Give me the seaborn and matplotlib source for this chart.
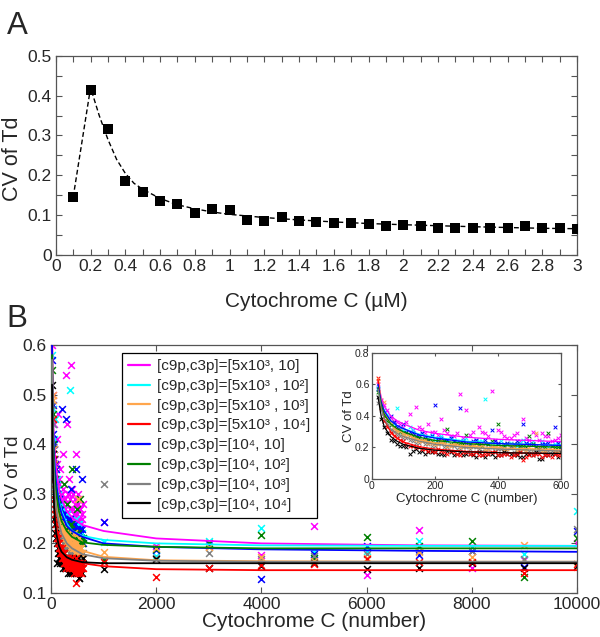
import matplotlib
matplotlib.use("Agg")
import matplotlib.pyplot as plt
from matplotlib.ticker import MultipleLocator, FuncFormatter
import seaborn as sns

# ---- panel A: CV of Td vs cytochrome C concentration
conc_um = [0.1, 0.2, 0.3, 0.4, 0.5, 0.6, 0.7, 0.8, 0.9, 1.0,
           1.1, 1.2, 1.3, 1.4, 1.5, 1.6, 1.7, 1.8, 1.9, 2.0,
           2.1, 2.2, 2.3, 2.4, 2.5, 2.6, 2.7, 2.8, 2.9, 3.0]
cv_td = [0.145, 0.415, 0.317, 0.185, 0.157, 0.135, 0.128, 0.105, 0.115, 0.113,
         0.088, 0.086, 0.096, 0.085, 0.083, 0.080, 0.081, 0.079, 0.073, 0.076,
         0.072, 0.068, 0.069, 0.068, 0.069, 0.068, 0.073, 0.067, 0.069, 0.066]
# dashed fitted curve
fit_conc = [0.1, 0.2, 0.25, 0.3, 0.35, 0.4, 0.45, 0.5, 0.6, 0.7, 0.8, 0.9, 1.0,
            1.2, 1.4, 1.6, 1.8, 2.0, 2.4, 2.8, 3.0]
fit_cv = [0.145, 0.42, 0.35, 0.29, 0.24, 0.205, 0.18, 0.165, 0.142, 0.126, 0.116,
          0.108, 0.102, 0.094, 0.088, 0.083, 0.079, 0.076, 0.071, 0.067, 0.066]

# ---- panel B: CV of Td vs cytochrome C molecule number
labels = ["[c9p,c3p]=[5x10³, 10]",
          "[c9p,c3p]=[5x10³ , 10²]",
          "[c9p,c3p]=[5x10³ , 10³]",
          "[c9p,c3p]=[5x10³ , 10⁴]",
          "[c9p,c3p]=[10⁴, 10]",
          "[c9p,c3p]=[10⁴, 10²]",
          "[c9p,c3p]=[10⁴, 10³]",
          "[c9p,c3p]=[10⁴, 10⁴]"]
colors = ["#ff00ff", "#00ffff", "#ffa64d", "#ff0000",
          "#0000ff", "#008000", "#808080", "#000000"]

dense_x = [20, 40, 60, 80, 100, 120, 140, 160, 180, 200,
           220, 240, 260, 280, 300, 320, 340, 360, 380, 400,
           420, 440, 460, 480, 500, 520, 540, 560, 580, 600]
dense_x2 = [30, 50, 70, 90, 110, 130, 150, 170, 190, 210,
            230, 250, 270, 290, 310, 330, 350, 370, 390, 410,
            430, 450, 470, 490, 510, 530, 550, 570, 590]
sparse_x = [1000, 2000, 3000, 4000, 5000, 6000, 7000, 8000, 9000, 10000]

# simulated CV, one list per parameter set (legend order)
dense_cv = [
    [0.60, 0.47, 0.39, 0.36, 0.33, 0.41, 0.46, 0.32, 0.35, 0.30,
     0.38, 0.29, 0.27, 0.54, 0.44, 0.30, 0.33, 0.29, 0.56, 0.31,
     0.27, 0.26, 0.29, 0.38, 0.25, 0.28, 0.29, 0.27, 0.25, 0.28],
    [0.58, 0.44, 0.36, 0.45, 0.31, 0.33, 0.27, 0.29, 0.26, 0.25,
     0.27, 0.24, 0.25, 0.23, 0.26, 0.22, 0.24, 0.51, 0.23, 0.22,
     0.21, 0.23, 0.21, 0.25, 0.22, 0.21, 0.24, 0.20, 0.22, 0.21],
    [0.62, 0.49, 0.36, 0.30, 0.28, 0.27, 0.25, 0.24, 0.23, 0.22,
     0.24, 0.21, 0.22, 0.20, 0.21, 0.22, 0.20, 0.19, 0.21, 0.20,
     0.19, 0.22, 0.18, 0.19, 0.20, 0.29, 0.18, 0.19, 0.18, 0.17],
    [0.64, 0.37, 0.29, 0.26, 0.24, 0.21, 0.20, 0.19, 0.18, 0.17,
     0.18, 0.16, 0.17, 0.15, 0.17, 0.16, 0.15, 0.16, 0.17, 0.15,
     0.16, 0.14, 0.16, 0.12, 0.15, 0.16, 0.14, 0.15, 0.16, 0.15],
    [0.57, 0.42, 0.40, 0.33, 0.35, 0.30, 0.27, 0.29, 0.25, 0.47,
     0.26, 0.25, 0.24, 0.45, 0.23, 0.24, 0.22, 0.25, 0.31, 0.23,
     0.22, 0.21, 0.24, 0.35, 0.22, 0.21, 0.22, 0.23, 0.33, 0.20],
    [0.55, 0.40, 0.34, 0.31, 0.29, 0.28, 0.26, 0.25, 0.24, 0.23,
     0.24, 0.32, 0.22, 0.23, 0.28, 0.21, 0.22, 0.23, 0.24, 0.35,
     0.21, 0.20, 0.22, 0.21, 0.27, 0.20, 0.21, 0.29, 0.20, 0.21],
    [0.48, 0.37, 0.31, 0.28, 0.26, 0.25, 0.23, 0.24, 0.22, 0.21,
     0.23, 0.20, 0.21, 0.19, 0.20, 0.21, 0.19, 0.18, 0.20, 0.19,
     0.18, 0.20, 0.17, 0.19, 0.18, 0.17, 0.19, 0.18, 0.17, 0.18],
    [0.52, 0.33, 0.25, 0.22, 0.21, 0.16, 0.19, 0.18, 0.17, 0.17,
     0.16, 0.18, 0.15, 0.17, 0.16, 0.15, 0.17, 0.14, 0.16, 0.15,
     0.17, 0.16, 0.15, 0.14, 0.16, 0.17, 0.13, 0.15, 0.16, 0.17],
]
dense_cv2 = [
    [0.50, 0.44, 0.37, 0.35, 0.36, 0.31, 0.33, 0.29, 0.30, 0.28,
     0.31, 0.27, 0.29, 0.26, 0.28, 0.25, 0.30, 0.27, 0.25, 0.30,
     0.26, 0.28, 0.24, 0.26, 0.30, 0.25, 0.27, 0.24, 0.26],
    [0.47, 0.41, 0.35, 0.32, 0.30, 0.31, 0.28, 0.27, 0.28, 0.26,
     0.25, 0.26, 0.24, 0.25, 0.23, 0.25, 0.24, 0.22, 0.23, 0.24,
     0.22, 0.21, 0.23, 0.22, 0.24, 0.21, 0.22, 0.21, 0.22],
    [0.50, 0.39, 0.32, 0.31, 0.27, 0.26, 0.24, 0.25, 0.23, 0.22,
     0.23, 0.21, 0.22, 0.21, 0.20, 0.21, 0.22, 0.19, 0.20, 0.21,
     0.19, 0.20, 0.19, 0.18, 0.19, 0.21, 0.18, 0.19, 0.18],
    [0.45, 0.33, 0.27, 0.25, 0.22, 0.21, 0.20, 0.19, 0.18, 0.19,
     0.17, 0.18, 0.16, 0.17, 0.16, 0.17, 0.15, 0.16, 0.17, 0.15,
     0.16, 0.15, 0.17, 0.14, 0.15, 0.16, 0.15, 0.14, 0.15],
    [0.48, 0.39, 0.36, 0.32, 0.30, 0.29, 0.28, 0.26, 0.27, 0.25,
     0.24, 0.26, 0.23, 0.24, 0.22, 0.25, 0.23, 0.22, 0.24, 0.21,
     0.23, 0.22, 0.21, 0.23, 0.22, 0.20, 0.22, 0.21, 0.23],
    [0.46, 0.37, 0.33, 0.30, 0.29, 0.27, 0.26, 0.25, 0.24, 0.23,
     0.24, 0.22, 0.23, 0.22, 0.21, 0.23, 0.21, 0.22, 0.20, 0.21,
     0.22, 0.20, 0.21, 0.20, 0.22, 0.19, 0.20, 0.21, 0.20],
    [0.44, 0.34, 0.30, 0.27, 0.26, 0.24, 0.23, 0.22, 0.21, 0.22,
     0.20, 0.21, 0.19, 0.20, 0.19, 0.20, 0.18, 0.19, 0.18, 0.19,
     0.18, 0.17, 0.18, 0.19, 0.17, 0.18, 0.17, 0.18, 0.17],
    [0.38, 0.29, 0.24, 0.21, 0.20, 0.18, 0.17, 0.16, 0.17, 0.16,
     0.15, 0.17, 0.16, 0.15, 0.16, 0.14, 0.15, 0.16, 0.14, 0.15,
     0.16, 0.15, 0.14, 0.16, 0.15, 0.13, 0.15, 0.16, 0.14],
]
sparse_cv = [
    [0.243, 0.195, 0.195, 0.177, 0.236, 0.136, 0.226, 0.150, 0.167, 0.200],
    [0.203, 0.175, 0.205, 0.232, 0.182, 0.185, 0.205, 0.193, 0.178, 0.266],
    [0.182, 0.191, 0.192, 0.172, 0.165, 0.170, 0.183, 0.172, 0.197, 0.152],
    [0.163, 0.133, 0.151, 0.156, 0.158, 0.168, 0.162, 0.163, 0.141, 0.158],
    [0.243, 0.186, 0.198, 0.128, 0.179, 0.195, 0.177, 0.185, 0.153, 0.224],
    [0.166, 0.188, 0.200, 0.217, 0.170, 0.212, 0.195, 0.205, 0.133, 0.210],
    [0.320, 0.170, 0.181, 0.168, 0.175, 0.178, 0.185, 0.185, 0.168, 0.228],
    [0.149, 0.168, 0.151, 0.155, 0.160, 0.148, 0.151, 0.160, 0.150, 0.155],
]

# fitted curves
fit_x = [20, 30, 40, 60, 80, 100, 150, 200, 300, 400, 600,
         1000, 2000, 4000, 7000, 10000]
fit_cv_b = [
    [0.62, 0.52, 0.46, 0.40, 0.37, 0.35, 0.31, 0.29, 0.265, 0.252, 0.237,
     0.225, 0.210, 0.200, 0.196, 0.195],
    [0.60, 0.49, 0.43, 0.37, 0.34, 0.32, 0.285, 0.265, 0.24, 0.225, 0.215,
     0.207, 0.200, 0.196, 0.195, 0.195],
    [0.64, 0.50, 0.42, 0.35, 0.31, 0.29, 0.25, 0.23, 0.21, 0.198, 0.185,
     0.173, 0.166, 0.164, 0.163, 0.163],
    [0.63, 0.47, 0.38, 0.30, 0.26, 0.235, 0.205, 0.19, 0.175, 0.168, 0.160,
     0.154, 0.148, 0.146, 0.146, 0.146],
    [0.60, 0.49, 0.43, 0.37, 0.34, 0.32, 0.28, 0.26, 0.235, 0.225, 0.213,
     0.200, 0.193, 0.188, 0.185, 0.183],
    [0.58, 0.47, 0.41, 0.35, 0.32, 0.30, 0.265, 0.245, 0.225, 0.213, 0.202,
     0.197, 0.193, 0.190, 0.190, 0.190],
    [0.57, 0.45, 0.38, 0.32, 0.29, 0.27, 0.24, 0.22, 0.20, 0.19, 0.178,
     0.170, 0.165, 0.163, 0.163, 0.163],
    [0.52, 0.40, 0.33, 0.27, 0.24, 0.22, 0.195, 0.183, 0.172, 0.167, 0.162,
     0.160, 0.160, 0.160, 0.160, 0.160],
]
# drawing order of the crosses (red ends up on top, like the original)
scatter_order = [0, 1, 4, 5, 6, 2, 7, 3]

sns.set_style("ticks")
plt.rcParams["font.family"] = ["Liberation Sans", "DejaVu Sans"]

fmt = FuncFormatter(lambda v, p: "%g" % round(v, 6))
frame_col = "#555555"


def style_axes(ax, size, length=4):
    ax.tick_params(which="both", direction="in", top=True, right=True,
                   length=length, width=0.8, color=frame_col, labelsize=size,
                   pad=3)
    for s in ax.spines.values():
        s.set_color(frame_col)
        s.set_linewidth(0.9)
    ax.xaxis.set_major_formatter(fmt)
    ax.yaxis.set_major_formatter(fmt)


fig = plt.figure(figsize=(6, 6.37), dpi=100)
ax_a = fig.add_axes([0.093, 0.5997, 0.8687, 0.3127])
ax_b = fig.add_axes([0.085, 0.0691, 0.8767, 0.3893])
ax_in = fig.add_axes([0.6195, 0.248, 0.3155, 0.198])

# ---- A
sns.lineplot(x=fit_conc, y=fit_cv, ax=ax_a, color="k", lw=1,
             linestyle=(0, (3.5, 2)), sort=False)
sns.scatterplot(x=conc_um, y=cv_td, ax=ax_a, marker="s", color="k", s=42,
                edgecolor="k", linewidth=0, zorder=3)
ax_a.set_xlim(0, 3)
ax_a.set_ylim(0, 0.5)
ax_a.xaxis.set_major_locator(MultipleLocator(0.2))
ax_a.xaxis.set_minor_locator(MultipleLocator(0.1))
ax_a.yaxis.set_major_locator(MultipleLocator(0.1))
ax_a.yaxis.set_minor_locator(MultipleLocator(0.05))
style_axes(ax_a, 12.5)
ax_a.set_xlabel("Cytochrome C (µM)", fontsize=15)
ax_a.set_ylabel("CV of Td", fontsize=15.5)
ax_a.xaxis.set_label_coords(0.5, -0.185)
ax_a.yaxis.set_label_coords(-0.062, 0.484)
fig.text(0.012, 1 - 34 / 637, "A", fontsize=22.5, va="baseline")

# ---- B main
for i in scatter_order:
    sns.scatterplot(x=dense_x + dense_x2 + sparse_x,
                    y=dense_cv[i] + dense_cv2[i] + sparse_cv[i],
                    ax=ax_b, marker="x", color=colors[i], s=24,
                    linewidth=1.1, zorder=2)
for i in range(8):
    sns.lineplot(x=fit_x, y=fit_cv_b[i], ax=ax_b, color=colors[i], lw=1.3,
                 label=labels[i], zorder=3)
ax_b.set_xlim(0, 10000)
ax_b.set_ylim(0.1, 0.6)
ax_b.xaxis.set_major_locator(MultipleLocator(2000))
ax_b.yaxis.set_major_locator(MultipleLocator(0.1))
style_axes(ax_b, 12.5)
ax_b.set_xlabel("Cytochrome C (number)", fontsize=15)
ax_b.set_ylabel("CV of Td", fontsize=13.5)
ax_b.xaxis.set_label_coords(0.5, -0.075)
ax_b.yaxis.set_label_coords(-0.056, 0.486)
leg = ax_b.legend(loc="upper left", bbox_to_anchor=(0.135, 0.968),
                  borderaxespad=0, fontsize=11, handlelength=1.4,
                  handletextpad=0.5, labelspacing=0.38, borderpad=0.4,
                  fancybox=False, framealpha=1, edgecolor="k")
leg.get_frame().set_linewidth(0.9)
for ln in leg.get_lines():
    ln.set_linewidth(1.6)
fig.text(0.011, 1 - 327 / 637, "B", fontsize=22.5, va="baseline")

# ---- B inset (zoom on 0-600)
for i in scatter_order:
    sns.scatterplot(x=dense_x + dense_x2, y=dense_cv[i] + dense_cv2[i],
                    ax=ax_in, marker="x", color=colors[i], s=7,
                    linewidth=0.7, zorder=2)
for i in range(8):
    sns.lineplot(x=fit_x, y=fit_cv_b[i], ax=ax_in, color=colors[i], lw=0.9,
                 legend=False, zorder=3)
ax_in.set_xlim(0, 600)
ax_in.set_ylim(0, 0.8)
ax_in.xaxis.set_major_locator(MultipleLocator(200))
ax_in.yaxis.set_major_locator(MultipleLocator(0.2))
style_axes(ax_in, 7.5, length=2.5)
ax_in.tick_params(pad=1.5)
ax_in.set_xlabel("Cytochrome C (number)", fontsize=9.5)
ax_in.set_ylabel("CV of Td", fontsize=9.5)
ax_in.xaxis.set_label_coords(0.5, -0.11)
ax_in.yaxis.set_label_coords(-0.09, 0.5)

fig.savefig("out.png", dpi=100)
